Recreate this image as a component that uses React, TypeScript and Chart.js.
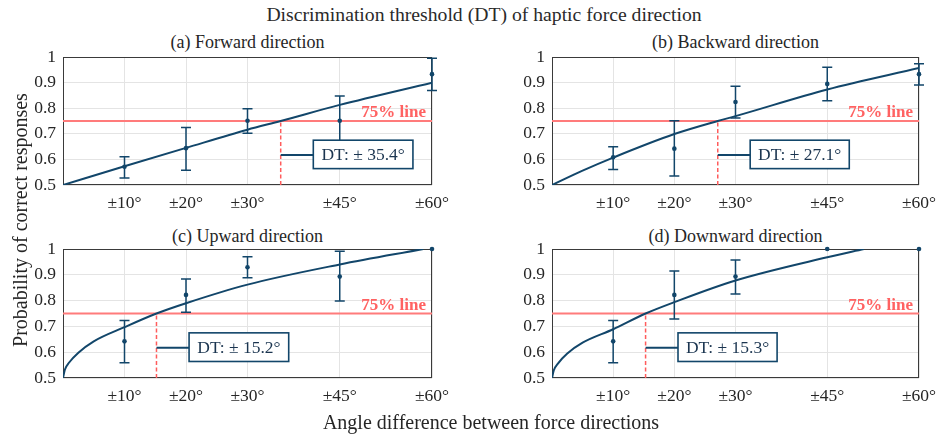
import React, { useEffect, useRef } from 'react';
import { Chart, registerables } from 'chart.js';

Chart.register(...registerables);

const FONT = '"Liberation Serif", "Times New Roman", serif';
const BLUE = '#12466a';
const RED = '#ff7b7b';
const RED_TEXT = '#ff6262';
const TEXT = '#262626';

// ---- shared axes ----
const angleTicks = [10, 20, 30, 45, 60];
const probTicks = [0.5, 0.6, 0.7, 0.8, 0.9, 1];
const testedAngles = [10, 20, 30, 45, 60];
const thresholdLevel = 0.75;

// ---- (a) Forward ----
const forwardMean = [0.571, 0.644, 0.751, 0.751, 0.933];
const forwardLow = [0.527, 0.558, 0.702, 0.654, 0.869];
const forwardHigh = [0.61, 0.725, 0.798, 0.848, 0.995];
const forwardFitX = [0, 10, 20, 30, 35.4, 45, 60];
const forwardFitY = [0.5, 0.573, 0.645, 0.716, 0.75, 0.813, 0.9];
const forwardDT = 35.4;

// ---- (b) Backward ----
const backwardMean = [0.608, 0.642, 0.824, 0.895, 0.933];
const backwardLow = [0.561, 0.535, 0.762, 0.829, 0.891];
const backwardHigh = [0.649, 0.751, 0.886, 0.96, 0.974];
const backwardFitX = [0, 5, 10, 20, 27.1, 30, 45, 60];
const backwardFitY = [0.5, 0.556, 0.607, 0.699, 0.75, 0.769, 0.873, 0.957];
const backwardDT = 27.1;

// ---- (c) Upward ----
const upwardMean = [0.642, 0.822, 0.929, 0.893, 1.0];
const upwardLow = [0.559, 0.755, 0.889, 0.798, 1.0];
const upwardHigh = [0.723, 0.884, 0.97, 0.991, 1.0];
const upwardFitX = [0, 0.3, 1, 2.5, 5, 10, 15.2, 20, 30, 45, 58.6];
const upwardFitY = [0.5, 0.532, 0.56, 0.598, 0.642, 0.697, 0.75, 0.79, 0.862, 0.94, 1.0];
const upwardDT = 15.2;

// ---- (d) Downward ----
const downwardMean = [0.642, 0.822, 0.893, 1.0, 1.0];
const downwardLow = [0.559, 0.729, 0.826, 1.0, 1.0];
const downwardHigh = [0.723, 0.915, 0.957, 1.0, 1.0];
const downwardFitX = [0, 0.3, 1, 2.5, 5, 10, 15.3, 20, 30, 45, 51];
const downwardFitY = [0.5, 0.53, 0.557, 0.595, 0.637, 0.689, 0.75, 0.794, 0.878, 0.968, 1.0];
const downwardDT = 15.3;

type Panel = {
  key: string;
  title: string;
  mean: number[];
  low: number[];
  high: number[];
  fitX: number[];
  fitY: number[];
  dt: number;
  left: number;
  top: number;
  width: number;
  height: number;
  axisW: number;
  padRight: number;
};

const panels: Panel[] = [
  { key: 'a', title: '(a) Forward direction', mean: forwardMean, low: forwardLow, high: forwardHigh, fitX: forwardFitX, fitY: forwardFitY, dt: forwardDT, left: 0, top: 50, width: 470, height: 170, axisW: 63, padRight: 38 },
  { key: 'b', title: '(b) Backward direction', mean: backwardMean, low: backwardLow, high: backwardHigh, fitX: backwardFitX, fitY: backwardFitY, dt: backwardDT, left: 480, top: 50, width: 457, height: 170, axisW: 72, padRight: 18 },
  { key: 'c', title: '(c) Upward direction', mean: upwardMean, low: upwardLow, high: upwardHigh, fitX: upwardFitX, fitY: upwardFitY, dt: upwardDT, left: 0, top: 242, width: 470, height: 171, axisW: 63, padRight: 38 },
  { key: 'd', title: '(d) Downward direction', mean: downwardMean, low: downwardLow, high: downwardHigh, fitX: downwardFitX, fitY: downwardFitY, dt: downwardDT, left: 480, top: 242, width: 457, height: 171, axisW: 72, padRight: 18 },
];

// annotation geometry (in data units relative to DT)
const CONNECT_Y = 0.617;
const BOX_OFFSET = 5.3;
const BOX_WIDTH = 16.2;
const BOX_TOP = 0.675;
const BOX_BOTTOM = 0.564;

function buildConfig(p: Panel): any {
  const overlay = {
    id: 'overlay_' + p.key,
    beforeDatasetsDraw(chart: any) {
      const { ctx, chartArea: a } = chart;
      ctx.save();
      ctx.strokeStyle = '#3a3a3a';
      ctx.lineWidth = 1;
      const l = Math.round(a.left) + 0.5;
      const t = Math.round(a.top) + 0.5;
      const r = Math.round(a.right) - 0.5;
      const b = Math.round(a.bottom) - 0.5;
      ctx.strokeRect(l, t, r - l, b - t);
      ctx.restore();
    },
    afterDatasetsDraw(chart: any) {
      const { ctx, chartArea: a } = chart;
      const xs = chart.scales.x;
      const ys = chart.scales.y;
      ctx.save();
      // error bars
      ctx.strokeStyle = BLUE;
      ctx.lineWidth = 1.5;
      testedAngles.forEach((ang, i) => {
        if (p.high[i] - p.low[i] < 0.001) return;
        const x = xs.getPixelForValue(ang);
        const y1 = ys.getPixelForValue(p.low[i]);
        const y2 = ys.getPixelForValue(p.high[i]);
        ctx.beginPath();
        ctx.moveTo(x, y1);
        ctx.lineTo(x, y2);
        ctx.moveTo(x - 5, y1);
        ctx.lineTo(x + 5, y1);
        ctx.moveTo(x - 5, y2);
        ctx.lineTo(x + 5, y2);
        ctx.stroke();
      });
      // 75% line label
      ctx.fillStyle = RED_TEXT;
      ctx.font = `bold 17px ${FONT}`;
      ctx.textAlign = 'right';
      ctx.textBaseline = 'alphabetic';
      ctx.fillText('75% line', a.right - 6, ys.getPixelForValue(thresholdLevel) - 4);
      // DT box
      const bx1 = xs.getPixelForValue(p.dt + BOX_OFFSET);
      const bx2 = xs.getPixelForValue(p.dt + BOX_OFFSET + BOX_WIDTH);
      const by1 = ys.getPixelForValue(BOX_TOP);
      const by2 = ys.getPixelForValue(BOX_BOTTOM);
      ctx.fillStyle = '#ffffff';
      ctx.fillRect(bx1, by1, bx2 - bx1, by2 - by1);
      ctx.strokeStyle = BLUE;
      ctx.lineWidth = 1.6;
      ctx.strokeRect(bx1, by1, bx2 - bx1, by2 - by1);
      ctx.fillStyle = '#1b3550';
      ctx.font = `17.5px ${FONT}`;
      ctx.textAlign = 'center';
      ctx.textBaseline = 'middle';
      ctx.fillText(`DT: \u00b1 ${p.dt.toFixed(1)}\u00b0`, (bx1 + bx2) / 2, (by1 + by2) / 2 + 1);
      ctx.restore();
    },
  };

  return {
    type: 'line',
    data: {
      datasets: [
        {
          label: 'mean',
          data: testedAngles.map((x, i) => ({ x, y: p.mean[i] })),
          showLine: false,
          pointRadius: 2.3,
          pointBackgroundColor: BLUE,
          pointBorderColor: BLUE,
          pointBorderWidth: 0,
          clip: false,
          order: 0,
        },
        {
          label: 'fit',
          data: p.fitX.map((x, i) => ({ x, y: p.fitY[i] })),
          borderColor: BLUE,
          borderWidth: 2,
          pointRadius: 0,
          cubicInterpolationMode: 'monotone',
          fill: false,
          order: 1,
        },
        {
          label: 'connector',
          data: [
            { x: p.dt, y: CONNECT_Y },
            { x: p.dt + BOX_OFFSET, y: CONNECT_Y },
          ],
          borderColor: BLUE,
          borderWidth: 2,
          pointRadius: 0,
          order: 2,
        },
        {
          label: 'dt',
          data: [
            { x: p.dt, y: 0.5 },
            { x: p.dt, y: thresholdLevel },
          ],
          borderColor: '#ff5c5c',
          borderWidth: 1.5,
          borderDash: [4, 2.5],
          pointRadius: 0,
          order: 3,
        },
        {
          label: '75%',
          data: [
            { x: 0, y: thresholdLevel },
            { x: 60, y: thresholdLevel },
          ],
          borderColor: RED,
          borderWidth: 2,
          pointRadius: 0,
          order: 4,
        },
      ],
    },
    options: {
      animation: false,
      responsive: false,
      maintainAspectRatio: false,
      events: [],
      layout: { padding: { left: 0, top: 7, right: p.padRight, bottom: 0 } },
      plugins: {
        legend: { display: false },
        tooltip: { enabled: false },
        title: { display: false },
      },
      scales: {
        x: {
          type: 'linear',
          min: 0,
          max: 60,
          afterBuildTicks: (s: any) => {
            s.ticks = angleTicks.map((v) => ({ value: v }));
          },
          afterFit: (s: any) => {
            s.height = 35;
            s.paddingLeft = 0;
            s.paddingRight = 0;
          },
          ticks: {
            autoSkip: false,
            maxRotation: 0,
            padding: 8,
            color: TEXT,
            font: { family: FONT, size: 17.5 },
            callback: (v: any) => `\u00b1${v}\u00b0`,
          },
          grid: { color: '#e4e4e4', drawTicks: false, lineWidth: 1 },
          border: { display: false },
        },
        y: {
          type: 'linear',
          min: 0.5,
          max: 1,
          afterBuildTicks: (s: any) => {
            s.ticks = probTicks.map((v) => ({ value: v }));
          },
          afterFit: (s: any) => {
            s.width = p.axisW;
            s.paddingTop = 0;
            s.paddingBottom = 0;
          },
          ticks: {
            autoSkip: false,
            padding: 7,
            color: TEXT,
            font: { family: FONT, size: 17.5 },
            callback: (v: any) => `${Math.round(Number(v) * 10) / 10}`,
          },
          grid: { color: '#e4e4e4', drawTicks: false, lineWidth: 1 },
          border: { display: false },
        },
      },
    },
    plugins: [overlay],
  };
}

function PanelChart({ p }: { p: Panel }) {
  const ref = useRef<HTMLCanvasElement | null>(null);
  useEffect(() => {
    if (!ref.current) return;
    const chart = new Chart(ref.current, buildConfig(p));
    return () => {
      chart.destroy();
    };
  }, []);
  return (
    <canvas
      ref={ref}
      width={p.width}
      height={p.height}
      style={{ position: 'absolute', left: p.left, top: p.top, width: p.width, height: p.height }}
    />
  );
}

const textStyle = (size: number): React.CSSProperties => ({
  position: 'absolute',
  fontFamily: FONT,
  fontSize: size,
  lineHeight: `${size}px`,
  color: TEXT,
  whiteSpace: 'nowrap',
  textAlign: 'center',
});

export default function App() {
  const plotCenters = [247.5, 735.5];
  return (
    <div
      style={{
        position: 'absolute',
        left: 0,
        top: 0,
        width: 937,
        height: 436,
        background: '#ffffff',
        overflow: 'hidden',
      }}
    >
      <div style={{ ...textStyle(19.7), left: 484 - 300, width: 600, top: 4.5, color: '#2a2a2a' }}>
        Discrimination threshold (DT) of haptic force direction
      </div>
      {panels.map((p, i) => (
        <div
          key={'t' + p.key}
          style={{ ...textStyle(18), left: plotCenters[i % 2] - 150, width: 300, top: i < 2 ? 33.2 : 226.6 }}
        >
          {p.title}
        </div>
      ))}
      {panels.map((p) => (
        <PanelChart key={p.key} p={p} />
      ))}
      <div style={{ ...textStyle(20), left: 491 - 300, width: 600, top: 412.3 }}>
        Angle difference between force directions
      </div>
      <div
        style={{
          ...textStyle(20),
          left: 20 - 200,
          width: 400,
          top: 220 - 10,
          height: 20,
          transform: 'rotate(-90deg)',
          transformOrigin: '50% 50%',
        }}
      >
        Probability of correct responses
      </div>
    </div>
  );
}
